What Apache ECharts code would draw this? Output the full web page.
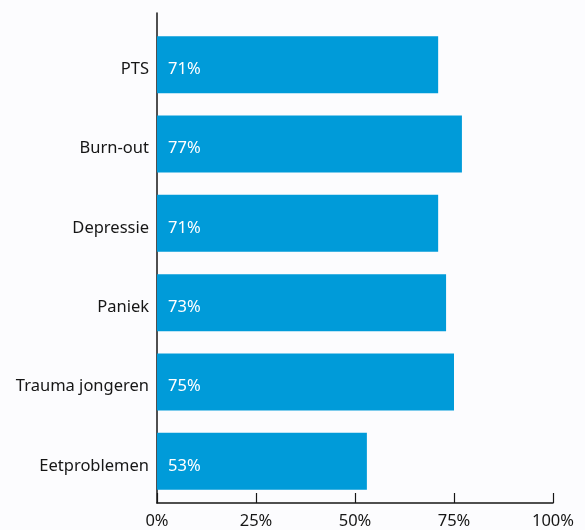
<!DOCTYPE html>
<html>
<head>
<meta charset="utf-8">
<script src="https://cdn.jsdelivr.net/npm/echarts@6/dist/echarts.min.js"></script>
<style>
  html, body { margin: 0; padding: 0; background: #fcfcfe; }
  #chart { width: 585px; height: 530px; }
</style>
</head>
<body>
<div id="chart"></div>
<script>
// Categories, top to bottom
const categories = ['PTS', 'Burn-out', 'Depressie', 'Paniek', 'Trauma jongeren', 'Eetproblemen'];
// Share per category, in percent
const values = [71, 77, 71, 73, 75, 53];
// Scale of the value axis
const axisMin = 0;
const axisMax = 100;
const axisStep = 25;

const FONT = '"Noto Sans", "Liberation Sans", sans-serif';
const INK = '#161616';
const BAR = '#009bd9';

const chart = echarts.init(document.getElementById('chart'), null, { renderer: 'canvas' });

chart.setOption({
  backgroundColor: '#fcfcfe',
  animation: false,
  grid: [
    // plotting area for the bars
    { left: 157, right: 32, top: 25, bottom: 29 },
    // frame: axis lines, ticks and percentage labels
    { left: 157, right: 32, top: 13, bottom: 22 }
  ],
  xAxis: [
    {
      gridIndex: 0, type: 'value', min: axisMin, max: axisMax, interval: axisStep,
      show: false
    },
    {
      gridIndex: 1, type: 'value', min: axisMin, max: axisMax, interval: axisStep,
      axisLine: { show: true, onZero: false, lineStyle: { color: INK, width: 1.5 } },
      axisTick: { show: true, inside: true, length: 10, lineStyle: { color: INK, width: 1.2 } },
      axisLabel: {
        formatter: '{value}%', margin: 10, color: INK,
        fontFamily: FONT, fontSize: 16.5
      },
      splitLine: { show: false }
    }
  ],
  yAxis: [
    {
      gridIndex: 0, type: 'category', data: categories, inverse: true,
      axisLine: { show: false },
      axisTick: { show: false },
      axisLabel: {
        margin: 8,
        formatter: (v) => '{n|' + v + '}',
        rich: {
          n: { color: INK, fontFamily: FONT, fontSize: 16.5, padding: [9, 0, 0, 0] }
        }
      }
    },
    {
      gridIndex: 1, type: 'value', min: 0, max: 1,
      axisLine: { show: true, onZero: false, lineStyle: { color: INK, width: 1.5 } },
      axisTick: { show: false },
      axisLabel: { show: false },
      splitLine: { show: false }
    }
  ],
  series: [
    {
      type: 'bar',
      xAxisIndex: 0,
      yAxisIndex: 0,
      data: values,
      barWidth: 57,
      itemStyle: { color: BAR },
      label: {
        show: true,
        position: 'insideLeft',
        distance: 11,
        offset: [0, 4.5],
        formatter: '{c}%',
        color: '#ffffff',
        fontFamily: FONT,
        fontSize: 16.5
      }
    }
  ]
});
</script>
</body>
</html>
